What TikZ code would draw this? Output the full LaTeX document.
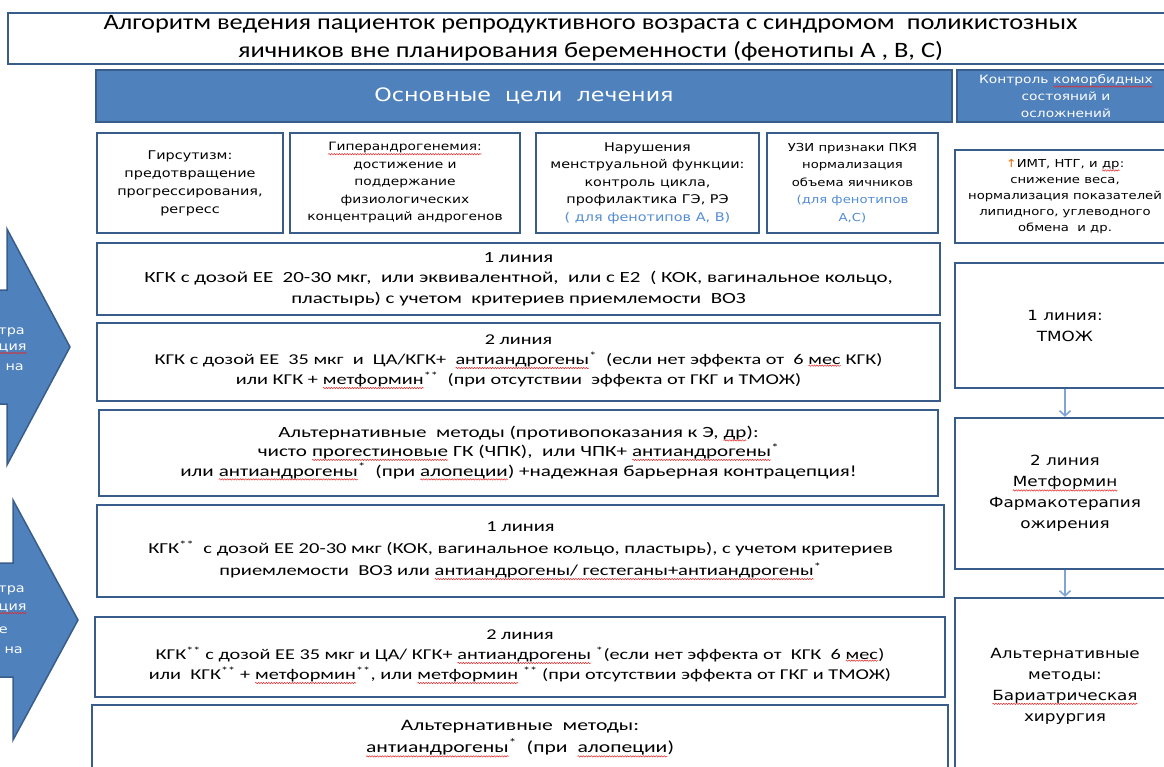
\documentclass[tikz,border=0pt]{standalone}
\usepackage{fontspec}
\setmainfont{Carlito}[FakeStretch=1.2]
\newfontfamily\kfont{Carlito}[FakeStretch=1.35]
\newfontfamily\vfont{DejaVu Sans}[FakeStretch=1.2]
\usetikzlibrary{arrows.meta,decorations.pathmorphing}
\definecolor{ramka}{RGB}{56,93,138}
\definecolor{zalivka}{RGB}{79,129,189}
\definecolor{svetlo}{RGB}{84,141,212}
\definecolor{strelka}{RGB}{125,165,215}
\definecolor{volna}{RGB}{230,40,40}
\definecolor{oranzh}{RGB}{228,108,10}
% red spell-check wave under a word
\newcommand\sq[1]{\tikz[baseline=(sl.base)]{\node[shape=rectangle, draw=none, fill=none,
  inner sep=0pt, outer sep=0pt, minimum width=0pt, minimum height=0pt, anchor=center] (sl) {#1};
  \draw[volna, line width=0.5pt, decorate, decoration={snake, amplitude=0.7pt, segment length=2.6pt}]
  ([yshift=-0.8pt]sl.south west) -- ([yshift=-0.8pt]sl.south east);}}
\newcommand\zv{\textsuperscript{*}}
\newcommand\dzv{\textsuperscript{**}}

\begin{document}
\begin{tikzpicture}[x=1pt,y=-1pt,
  ramochka/.style={draw=ramka, line width=2.4pt, fill=white, inner sep=0pt, align=center},
  tsel/.style={ramochka, minimum height=100, font=\vfont\fontsize{11.5}{17.5}\selectfont},
  liniya/.style={ramochka, font=\kfont\fontsize{15.5}{20.5}\selectfont},
  pravo/.style={ramochka, minimum width=220, font=\vfont\fontsize{14}{21}\selectfont},
  sinii/.style={draw=ramka, line width=1.6pt, fill=zalivka, text=white, minimum height=52, inner sep=0pt, align=center},
  frag/.style={text=white, anchor=east, inner sep=0pt, font=\vfont\fontsize{12}{18}\selectfont},
  sled/.style={-{Straight Barb[length=5pt,width=11pt]}, draw=strelka, line width=1.6pt}]
\useasboundingbox (0,0) rectangle (1164,767);
\clip (0,0) rectangle (1164,767);

% title
\node[ramochka, line width=2pt, minimum width=1165, minimum height=51,
  font=\fontsize{22}{28}\selectfont] (zag) at (590.5,38.5)
  {Алгоритм ведения пациенток репродуктивного возраста с синдромом\ \ поликистозных\\
   яичников вне планирования беременности (фенотипы А , В, С)};

% headers
\node[sinii, minimum width=856, font=\vfont\fontsize{18.5}{22}\selectfont] (celi) at (524,96)
  {Основные\ \ цели\ \ лечения};
\node[sinii, minimum width=218, font=\vfont\fontsize{11.5}{17}\selectfont] (kontrol) at (1066,96)
  {Контроль \sq{коморбидных}\\ состояний и\\ осложнений};

% goals
\node[tsel, minimum width=186, font=\vfont\fontsize{12}{18}\selectfont] (g1) at (190,183)
  {Гирсутизм:\\ предотвращение\\ прогрессирования,\\ регресс};
\node[tsel, minimum width=230] (g2) at (405,183)
  {\sq{Гиперандрогенемия:}\\ достижение и\\ поддержание\\ физиологических\\ концентраций андрогенов};
\node[tsel, minimum width=223, font=\vfont\fontsize{12}{17.5}\selectfont] (g3) at (647.5,183)
  {Нарушения\\ менструальной функции:\\ контроль цикла,\\ профилактика ГЭ, РЭ\\
   \textcolor{svetlo}{( для фенотипов А, В)}};
\node[tsel, minimum width=171, font=\vfont\fontsize{11}{17.5}\selectfont] (g4) at (852.5,183)
  {УЗИ признаки ПКЯ\\ нормализация\\ объема яичников\\
   \textcolor{svetlo}{(для фенотипов}\\ \textcolor{svetlo}{А,С)}};
\node[pravo, minimum height=93, font=\vfont\fontsize{11}{16}\selectfont] (imt) at (1065,196.5)
  {\textcolor{oranzh}{↑}ИМТ, НТГ, и \sq{др}:\\ снижение веса,\\ нормализация показателей\\
   липидного, углеводного\\ обмена\ \ и др.};

% first group
\node[liniya, minimum width=843, minimum height=72] (l1a) at (518.5,279)
  {1 линия\\ КГК с дозой ЕЕ\ \ 20-30 мкг,\ \ или эквивалентной,\ \ или с Е2\ \ ( КОК, вагинальное кольцо,\\
   пластырь) с учетом\ \ критериев приемлемости\ \ ВОЗ};
\node[liniya, minimum width=843, minimum height=78, font=\kfont\fontsize{15}{20}\selectfont] (l2a) at (518.5,362)
  {2 линия\\ КГК с дозой ЕЕ\ \ 35 мкг\ \ и\ \ ЦА/КГК+\ \ \sq{антиандрогены}\zv\ \ (если нет эффекта от\ \ 6 \sq{мес} КГК)\\
   или КГК + \sq{метформин}\dzv\ \ (при отсутствии\ \ эффекта от ГКГ и ТМОЖ)};
\node[liniya, minimum width=839, minimum height=86, font=\kfont\fontsize{15.6}{19.5}\selectfont] (alta) at (518.5,453)
  {Альтернативные\ \ методы (противопоказания к Э, \sq{др}):\\
   чисто \sq{прогестиновые} ГК (ЧПК),\ \ или ЧПК+ \sq{антиандрогены}\zv\\
   или \sq{антиандрогены}\zv\ \ (при \sq{алопеции}) +надежная барьерная контрацепция!};

% second group
\node[liniya, minimum width=847, minimum height=92, font=\kfont\fontsize{15.2}{22}\selectfont] (l1b) at (520.5,551)
  {1 линия\\ КГК\dzv\ \ с дозой ЕЕ 20-30 мкг (КОК, вагинальное кольцо, пластырь), с учетом критериев\\
   приемлемости\ \ ВОЗ или \sq{антиандрогены/ гестеганы+антиандрогены}\zv};
\node[liniya, minimum width=850, minimum height=80, font=\kfont\fontsize{15}{20}\selectfont] (l2b) at (520,657)
  {2 линия\\ КГК\dzv\ с дозой ЕЕ 35 мкг и ЦА/ КГК+ \sq{антиандрогены} \zv(если нет эффекта от\ \ КГК\ \ 6 \sq{мес})\\
   или\ \ КГК\dzv\ + \sq{метформин}\dzv, или \sq{метформин}\ \dzv\ (при отсутствии эффекта от ГКГ и ТМОЖ)};
\node[liniya, minimum width=856, minimum height=68, font=\kfont\fontsize{16}{22}\selectfont] (altb) at (520,739)
  {Альтернативные\ \ методы:\\ \sq{антиандрогены}\zv\ \ (при\ \ \sq{алопеции})};

% right column
\node[pravo, minimum height=125] (r1) at (1065,325.5) {1 линия:\\ ТМОЖ};
\node[pravo, minimum height=151] (r2) at (1065,493.5)
  {2 линия\\ \sq{Метформин}\\ Фармакотерапия\\ ожирения};
\node[pravo, minimum height=176] (r3) at (1065,686)
  {Альтернативные\\ методы:\\ \sq{Бариатрическая}\\ хирургия};
\draw[sled] (r1) -- (r2);
\draw[sled] (r2) -- (r3);

% big arrows on the left
\draw[fill=zalivka, draw=ramka, line width=1.5pt]
  (-5,290) -- (7,290) -- (7,229) -- (70,347) -- (7,465) -- (7,404) -- (-5,404) -- cycle;
\draw[fill=zalivka, draw=ramka, line width=1.5pt]
  (-5,563) -- (13,563) -- (13,500) -- (78,620) -- (13,740) -- (13,677) -- (-5,677) -- cycle;
\node[frag] (a1) at (25,332) {тра};
\node[frag] (a2) at (27,349) {\sq{ция}};
\node[frag] (a3) at (24,367) {на};
\node[frag] (b1) at (25,590) {тра};
\node[frag] (b2) at (27,609) {\sq{ция}};
\node[frag] (b3) at (8,630) {е};
\node[frag] (b4) at (23,650) {на};
\end{tikzpicture}
\end{document}
